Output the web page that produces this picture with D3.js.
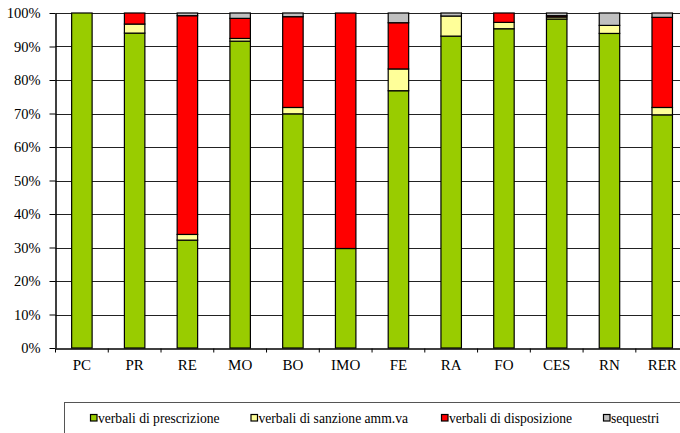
<!DOCTYPE html>
<html>
<head>
<meta charset="utf-8">
<script src="https://cdn.jsdelivr.net/npm/d3@7"></script>
<style>
  html, body { margin: 0; padding: 0; background: #fff; }
  svg { display: block; }
  svg text { font-family: "Liberation Serif", "Times New Roman", Times, "DejaVu Serif", serif !important; }
</style>
</head>
<body>
<svg id="chart" width="680" height="433"></svg>
<script>
const categories = ["PC", "PR", "RE", "MO", "BO", "IMO", "FE", "RA", "FO", "CES", "RN", "RER"];
const seriesNames = ["verbali di prescrizione", "verbali di sanzione amm.va", "verbali di disposizione", "sequestri"];
const prescrizione = [100, 94.0, 32.2, 91.6, 69.9, 29.7, 76.8, 93.1, 95.3, 98.2, 93.9, 69.6];
const sanzione     = [0, 2.7, 1.7, 0.8, 1.9, 0, 6.5, 6.0, 1.9, 0.6, 2.4, 2.2];
const disposizione = [0, 3.3, 65.3, 6.0, 27.1, 70.3, 13.8, 0, 2.8, 0.4, 0, 26.9];
const sequestri    = [0, 0, 0.8, 1.6, 1.1, 0, 2.9, 0.9, 0, 0.8, 3.7, 1.3];
const colors = ["#99CC00", "#FFFF99", "#FF0000", "#C0C0C0"];
const yTicks = [0, 10, 20, 30, 40, 50, 60, 70, 80, 90, 100];

const seriesValues = [prescrizione, sanzione, disposizione, sequestri];
const keys = ["s0", "s1", "s2", "s3"];
const table = categories.map((c, i) => {
  const row = { cat: c };
  keys.forEach((k, j) => row[k] = seriesValues[j][i]);
  return row;
});

const svg = d3.select("#chart");
const plotLeft = 55.5, plotRight = 688.6, plotTop = 13, plotBottom = 348;

const x = d3.scaleBand().domain(categories).range([plotLeft, plotRight]).paddingInner(0.612).paddingOuter(0.306);
const y = d3.scaleLinear().domain([0, 100]).range([plotBottom, plotTop]);

// gridlines
svg.append("g").selectAll("line").data(yTicks.filter(t => t > 0)).join("line")
  .attr("x1", plotLeft).attr("x2", 680)
  .attr("y1", d => Math.round(y(d)) + 0.5).attr("y2", d => Math.round(y(d)) + 0.5)
  .attr("stroke", "#222").attr("stroke-width", 1);

// stacked bars
const stack = d3.stack().keys(keys)(table);
const g = svg.append("g");
stack.forEach((layer, li) => {
  g.append("g").selectAll("rect").data(layer.filter(d => d[1] - d[0] > 0)).join("rect")
    .attr("x", d => x(d.data.cat))
    .attr("width", x.bandwidth())
    .attr("y", d => y(d[1]))
    .attr("height", d => y(d[0]) - y(d[1]))
    .attr("fill", colors[li])
    .attr("stroke", "#000").attr("stroke-width", 1.2);
});

// y axis
const yAxis = d3.axisLeft(y).tickValues(yTicks).tickFormat(d => d + "%").tickSize(6).tickSizeOuter(0).tickPadding(9);
const ya = svg.append("g").attr("transform", `translate(${plotLeft},0)`).call(yAxis);
ya.attr("font-family", null);
ya.selectAll("text").style("font-size", "14.5px").attr("fill", "#000");
ya.selectAll("line").attr("stroke", "#000");
ya.select(".domain").attr("stroke", "#000").attr("stroke-width", 1.5);

// x axis
const xAxis = d3.axisBottom(x).tickSize(0).tickPadding(11);
const xa = svg.append("g").attr("transform", `translate(0,${plotBottom + 0.5})`).call(xAxis);
xa.attr("font-family", null);
xa.selectAll("text").style("font-size", "15px").attr("fill", "#000");
xa.select(".domain").attr("stroke", "#000").attr("stroke-width", 1.5);
// boundary ticks between categories
const step = x.step();
const bounds = d3.range(categories.length + 1).map(i => plotLeft + i * step);
xa.append("g").selectAll("line").data(bounds).join("line")
  .attr("x1", d => d).attr("x2", d => d).attr("y1", 0).attr("y2", 4)
  .attr("stroke", "#000");

// legend
const lg = svg.append("g");
lg.append("rect").attr("x", 64.5).attr("y", 402.5).attr("width", 630).attr("height", 60)
  .attr("fill", "#fff").attr("stroke", "#555").attr("stroke-width", 1);
const legendX = [90, 250.5, 441, 603];
seriesNames.forEach((n, i) => {
  const it = lg.append("g").attr("transform", `translate(${legendX[i]},0)`);
  it.append("rect").attr("x", 0.5).attr("y", 414.5).attr("width", 6.5).attr("height", 6.5)
    .attr("fill", colors[i]).attr("stroke", "#000").attr("stroke-width", 1.2);
  it.append("text").attr("x", 8).attr("y", 422.5).text(n)
    .style("font-size", "13.6px").attr("fill", "#000");
});
</script>
</body>
</html>
